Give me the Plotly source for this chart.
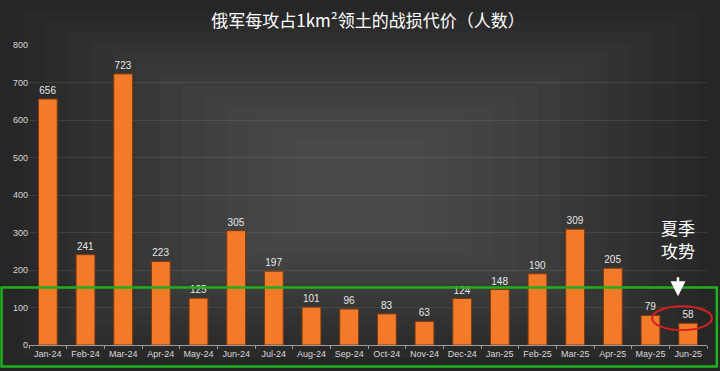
import plotly.graph_objects as go

months = ["Jan-24", "Feb-24", "Mar-24", "Apr-24", "May-24", "Jun-24", "Jul-24", "Aug-24", "Sep-24",
          "Oct-24", "Nov-24", "Dec-24", "Jan-25", "Feb-25", "Mar-25", "Apr-25", "May-25", "Jun-25"]
losses = [656, 241, 723, 223, 125, 305, 197, 101, 96, 83, 63, 124, 148, 190, 309, 205, 79, 58]
y_ticks = [0, 100, 200, 300, 400, 500, 600, 700, 800]

title_text = "俄军每攻占1km²领土的战损代价（人数）"
note_lines = ["夏季", "攻势"]
note_y = [314, 253]

fig = go.Figure()
fig.add_trace(go.Bar(
    x=months, y=losses,
    marker=dict(color="#f37a28", line=dict(color="#7a3a10", width=1)),
    text=[str(v) for v in losses], textposition="outside",
    textfont=dict(color="#e6e6e6", size=10, family="Liberation Sans"),
    cliponaxis=False,
))

shapes = []
# background pseudo-radial gradient
n = 14
for i in range(n):
    f = i / n
    shapes.append(dict(type="rect", xref="paper", yref="paper", layer="below",
                       x0=-0.043 + f * 0.47, x1=1.02 - f * 0.47,
                       y0=-0.08 + f * 0.5, y1=1.15 - f * 0.5,
                       fillcolor="rgba(255,255,255,0.014)", line=dict(width=0)))
# green box
shapes.append(dict(type="rect", xref="paper", yref="paper", x0=-0.0405, x1=1.0145, y0=-0.0715, y1=0.192,
                   line=dict(color="#1fb01f", width=2.5), fillcolor="rgba(0,0,0,0)"))
# red ellipse
shapes.append(dict(type="circle", xref="paper", yref="paper", x0=0.919, x1=1.0074, y0=0.0497, y1=0.129,
                   line=dict(color="#d42020", width=2), fillcolor="rgba(0,0,0,0)"))

annotations = [
    dict(x=16.73, y=130, ax=16.73, ay=185, xref="x", yref="y", axref="x", ayref="y",
         showarrow=True, arrowhead=2, arrowsize=1.2, arrowwidth=2.5, arrowcolor="white", text=""),
]
for line, yv in zip(note_lines, note_y):
    annotations.append(dict(x=16.73, y=yv, xref="x", yref="y", text=line, showarrow=False,
                            font=dict(color="white", size=17, family="Noto Sans CJK SC")))

fig.update_layout(
    width=720, height=371,
    margin=dict(l=29, r=13, t=45, b=24),
    paper_bgcolor="#232323", plot_bgcolor="rgba(0,0,0,0)",
    title=dict(text=title_text, x=0.5, xref="paper", xanchor="center", y=0.942, yanchor="middle",
               font=dict(color="white", size=17, family="Noto Sans CJK SC")),
    showlegend=False,
    bargap=0.5,
    shapes=shapes,
    xaxis=dict(type="category", showgrid=False, showline=True, linecolor="#9a9a9a", linewidth=1,
               ticks="outside", tickson="boundaries", ticklen=3, tickcolor="#9a9a9a", tickangle=0,
               tickfont=dict(color="#d8d8d8", size=9, family="Liberation Sans"),
               range=[-0.5, 17.5]),
    yaxis=dict(range=[0, 800], tickvals=y_ticks, showgrid=True, gridcolor="rgba(255,255,255,0.09)",
               zeroline=False, showline=False,
               tickfont=dict(color="#d8d8d8", size=9, family="Liberation Sans")),
    annotations=annotations,
)

fig.write_html("out.html", config={"displayModeBar": False},
               post_script="document.body.style.margin='0';document.body.style.overflow='hidden';")
